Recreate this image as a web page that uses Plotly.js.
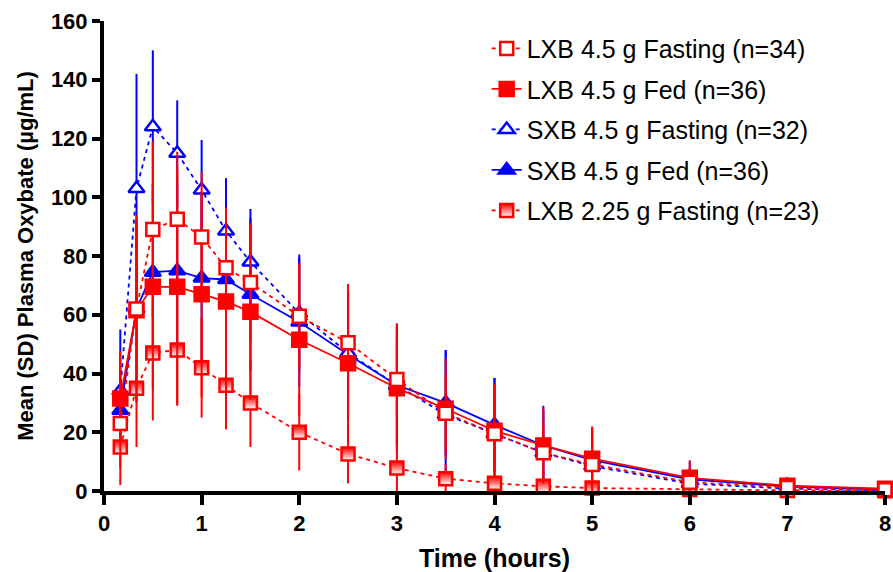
<!DOCTYPE html>
<html>
<head>
<meta charset="utf-8">
<script src="https://cdn.plot.ly/plotly-3.0.1.min.js"></script>
<style>html,body{margin:0;padding:0;background:#fff;}#chart{width:893px;height:572px;}</style>
</head>
<body>
<div id="chart"></div>
<script>
// Time points (hours)
const time = [0.167, 0.333, 0.5, 0.75, 1, 1.25, 1.5, 2, 2.5, 3, 3.5, 4, 4.5, 5, 6, 7, 8];

// Mean plasma oxybate (µg/mL) and SD per series
const lxb45Fasting   = [23, 62, 89, 92.5, 86.5, 76, 71, 59.5, 50.5, 38, 26.5, 19.5, 13, 9, 3, 1.2, 0.4];
const lxb45FastingSD = [15, 32, 30, 23, 22, 20, 20, 18, 17, 14, 13, 12, 10, 8, 5, 3, 1];

const lxb45Fed   = [31.5, 61.5, 69.5, 69.5, 67, 64.5, 61, 51.5, 43.5, 35, 28, 20.5, 15.5, 11, 4.5, 1.8, 0.8];
const lxb45FedSD = [16, 31, 35, 40, 35, 32, 30, 26, 27, 22, 17, 16, 13, 11, 6, 3, 1.5];

const sxb45Fasting   = [34, 103, 124, 115, 102.5, 88.5, 78, 60.5, 47, 36, 26, 19.5, 13, 8.5, 2.5, 0.8, 0.2];
const sxb45FastingSD = [21, 39, 26, 18, 17, 18, 18, 20, 21, 21, 22, 19, 16, 13, 4, 1.5, 0.5];

const sxb45Fed   = [27.5, 62, 74.5, 75, 72.5, 72, 67, 57.5, 46.5, 36, 30, 22.5, 15.5, 10.5, 4, 1.5, 0.5];
const sxb45FedSD = [14, 30, 30, 30, 28, 26, 26, 22, 22, 20, 18, 16, 12, 10, 6, 3, 1];

const lxb225Fasting   = [15, 35, 47, 48, 42, 36, 30, 20, 12.6, 7.8, 4.2, 2.6, 1.6, 1.0, 0.5, 0.2, 0.1];
const lxb225FastingSD = [13, 20, 23, 19, 17, 15, 15, 13, 10, 9, 5, 3, 2, 1.5, 0.8, 0.3, 0.2];

const seriesNames = [
  "LXB 4.5 g Fasting (n=34)",
  "LXB 4.5 g Fed (n=36)",
  "SXB 4.5 g Fasting (n=32)",
  "SXB 4.5 g Fed (n=36)",
  "LXB 2.25 g Fasting (n=23)"
];

const RED = "#ff0000", BLUE = "#0000ff";
const dash = "4px,4px";

// fill: "full", "open", "half"
function mk(name, y, sd, color, dashed, symbol, rank, fill, size) {
  const marker = {symbol: symbol, size: size, color: fill === "open" ? "#ffffff" : color,
                  line: {color: color, width: 2.5}};
  if (fill === "half") marker.gradient = {type: "vertical", color: "#ffffff"};
  return {
    type: "scatter", mode: "lines+markers", name: name,
    x: time, y: y,
    legendrank: rank, legendgroup: "g" + rank,
    cliponaxis: false,
    line: {color: color, width: 1.8, dash: dashed ? dash : "solid"},
    marker: marker,
    error_y: {type: "data", array: sd, visible: true, color: color, thickness: 2, width: 0}
  };
}

const traces = [
  mk(seriesNames[3], sxb45Fed, sxb45FedSD, BLUE, false, "triangle-up", 4, "full", 14),
  mk(seriesNames[2], sxb45Fasting, sxb45FastingSD, BLUE, true, "triangle-up", 3, "open", 14),
  mk(seriesNames[4], lxb225Fasting, lxb225FastingSD, RED, true, "square", 5, "half", 13),
  mk(seriesNames[1], lxb45Fed, lxb45FedSD, RED, false, "square", 2, "full", 14),
  mk(seriesNames[0], lxb45Fasting, lxb45FastingSD, RED, true, "square", 1, "open", 13)
];

const bold = "'Liberation Sans', Arial, Helvetica, sans-serif";
const tickFont = {family: bold, size: 22, color: "#000"};
function b(a) { return a.map(v => "<b>" + v + "</b>"); }

const layout = {
  width: 893, height: 572,
  margin: {l: 104, r: 8, t: 21, b: 81},
  paper_bgcolor: "#fff", plot_bgcolor: "#fff",
  font: {family: bold, color: "#000"},
  showlegend: true,
  legend: {x: 0.49, y: 0.99, xanchor: "left", yanchor: "top",
           font: {family: bold, size: 25, color: "#000"},
           tracegroupgap: 5, bgcolor: "rgba(0,0,0,0)", traceorder: "grouped"},
  xaxis: {
    range: [0, 8], tickvals: [0,1,2,3,4,5,6,7,8], ticktext: b([0,1,2,3,4,5,6,7,8]),
    showgrid: false, zeroline: false, showline: true, linecolor: "#000", linewidth: 4,
    ticks: "outside", ticklen: 10, tickwidth: 4, tickcolor: "#000",
    tickfont: tickFont,
    title: {text: "<b>Time (hours)</b>", font: {family: bold, size: 25, color: "#000"}, standoff: 15}
  },
  yaxis: {
    range: [0, 160], tickvals: [0,20,40,60,80,100,120,140,160],
    ticktext: b([0,20,40,60,80,100,120,140,160]),
    showgrid: false, zeroline: false, showline: true, linecolor: "#000", linewidth: 4,
    ticks: "outside", ticklen: 8, tickwidth: 4, tickcolor: "#000",
    tickfont: tickFont,
    title: {text: "<b>Mean (SD) Plasma Oxybate (µg/mL)</b>", font: {family: bold, size: 22, color: "#000"}, standoff: 12}
  }
};

Plotly.newPlot("chart", traces, layout, {displayModeBar: false, staticPlot: true});
</script>
</body>
</html>
